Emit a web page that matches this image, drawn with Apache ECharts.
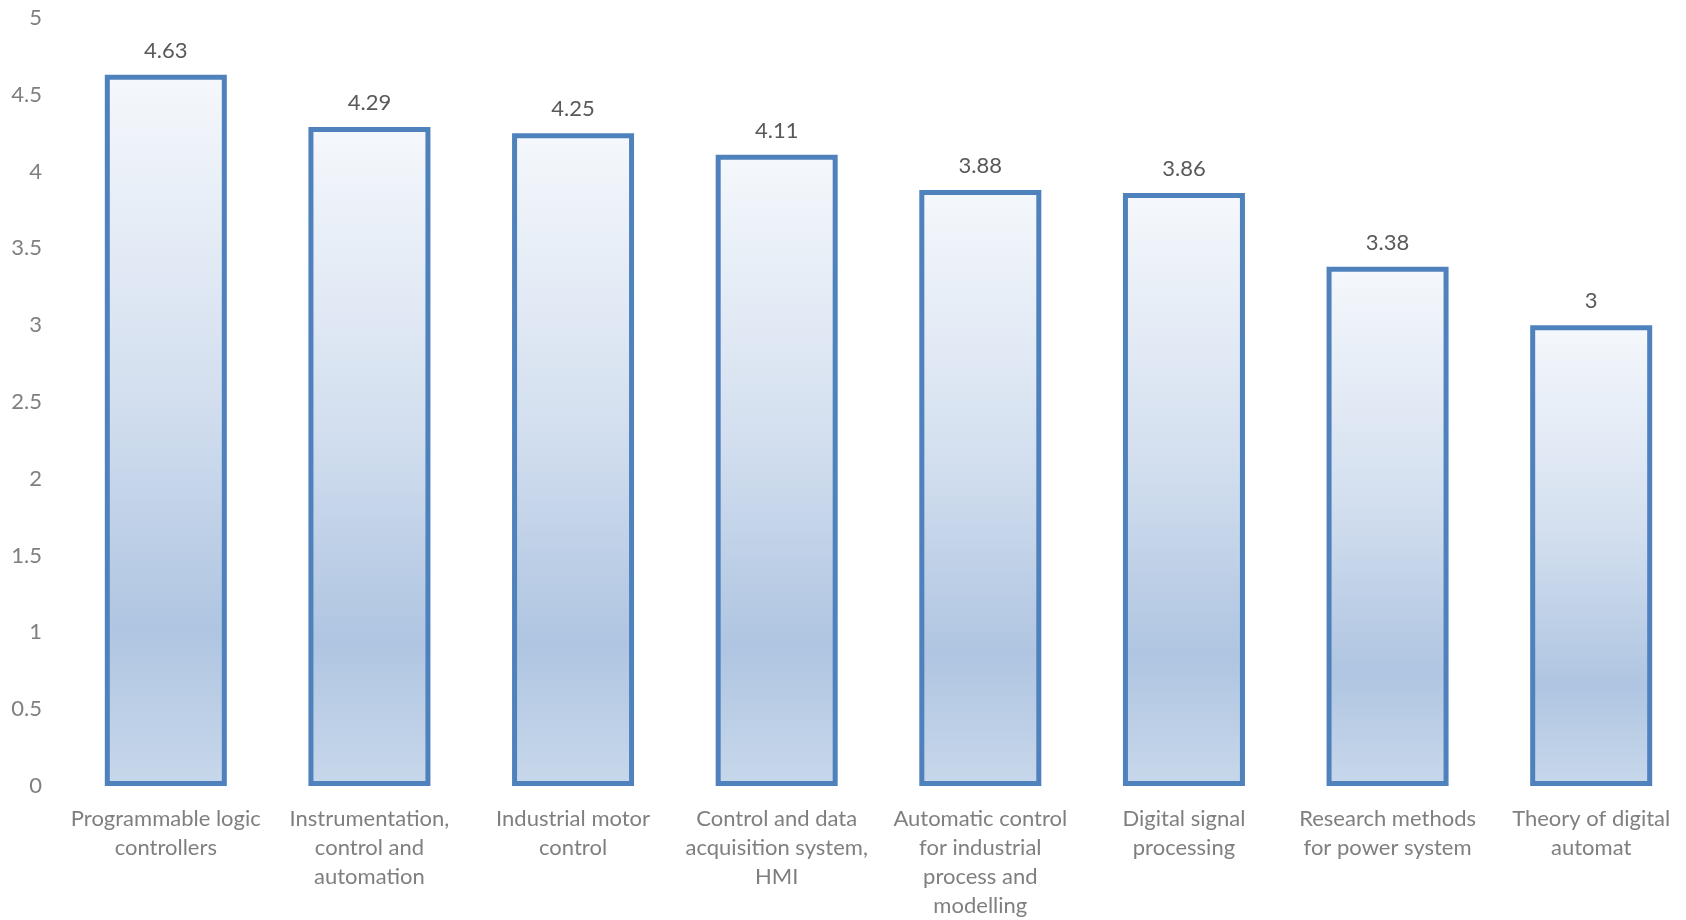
<!DOCTYPE html>
<html>
<head>
<meta charset="utf-8">
<script src="https://cdn.jsdelivr.net/npm/echarts@6/dist/echarts.min.js"></script>
<style>html,body{margin:0;padding:0;background:#fff;overflow:hidden;width:1686px;height:920px}#c{width:1700px;height:920px}</style>
</head>
<body>
<div id="c"></div>
<script>
const categories = [
  'Programmable logic\ncontrollers',
  'Instrumentation,\ncontrol and\nautomation',
  'Industrial motor\ncontrol',
  'Control and data\nacquisition system,\nHMI',
  'Automatic control\nfor industrial\nprocess and\nmodelling',
  'Digital signal\nprocessing',
  'Research methods\nfor power system',
  'Theory of digital\nautomat'
];
const values = [4.63, 4.29, 4.25, 4.11, 3.88, 3.86, 3.38, 3];
const yMin = 0, yMax = 5, yInterval = 0.5;

const chart = echarts.init(document.getElementById('c'));
chart.setOption({
  animation: false,
  grid: { left: 64, top: 18, right: 7, bottom: 131, containLabel: false },
  xAxis: {
    type: 'category',
    data: categories,
    axisLine: { show: false },
    axisTick: { show: false },
    axisLabel: {
      interval: 0, margin: 18,
      fontFamily: 'Lato', fontSize: 22, color: '#7f7f7f', lineHeight: 29
    }
  },
  yAxis: {
    type: 'value', min: yMin, max: yMax, interval: yInterval,
    splitLine: { show: false },
    axisLine: { show: false },
    axisTick: { show: false },
    axisLabel: { fontFamily: 'Lato', fontSize: 22, color: '#7f7f7f', margin: 22 }
  },
  series: [{
    type: 'bar',
    data: values,
    barWidth: 122,
    itemStyle: {
      borderColor: '#4f81bd',
      borderWidth: 5,
      color: new echarts.graphic.LinearGradient(0, 0, 0, 1, [
        { offset: 0, color: '#f5f8fc' },
        { offset: 0.45, color: '#d3dfef' },
        { offset: 0.78, color: '#afc5e1' },
        { offset: 1, color: '#c8d8eb' }
      ])
    },
    label: {
      show: true, position: 'top', distance: 13,
      fontFamily: 'Lato', fontSize: 22, color: '#595959'
    }
  }]
});
</script>
</body>
</html>
